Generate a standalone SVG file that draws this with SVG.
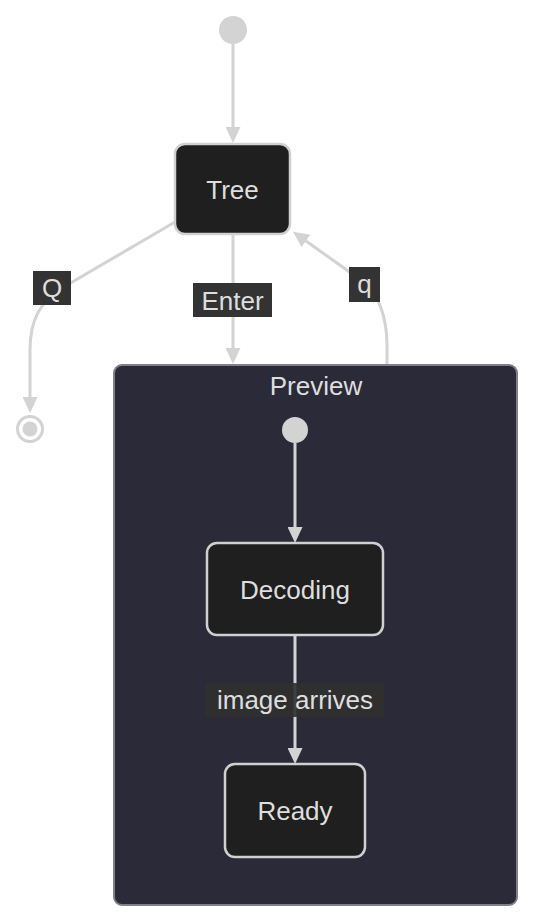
<svg xmlns="http://www.w3.org/2000/svg" width="534" height="922" viewBox="0 0 534 922">
<defs>
<style>
.edge{fill:none;stroke:#d3d3d3;stroke-width:3;}
.node{fill:#1f1f1f;stroke:#d0d0d0;stroke-width:2.5;}
.txt{font-family:"Liberation Sans",Arial,sans-serif;font-size:26px;fill:#dedede;text-anchor:middle;}
.lbl{fill:#333333;}
.dot{fill:#d3d3d3;}
</style>
<marker id="arr" viewBox="0 0 16 15" markerWidth="16" markerHeight="15" refX="0" refY="7.5" orient="auto" markerUnits="userSpaceOnUse">
<path d="M0,0 L16,7.5 L0,15 Z" fill="#d3d3d3"/>
</marker>
</defs>
<rect width="534" height="922" fill="#ffffff"/>
<g id="Preview">
<rect x="114" y="365" width="403" height="540" rx="8" fill="#2a2a38" stroke="#808086" stroke-width="2"/>
<text class="txt" x="316" y="395">Preview</text>
</g>
<g id="connectors">
<path class="edge" d="M233,44 L233,127" marker-end="url(#arr)"/>
<path class="edge" d="M175,222 L62,288 C40,302 30,320 30,350 L30,397" marker-end="url(#arr)"/>
<path class="edge" d="M233,234 L233,348" marker-end="url(#arr)"/>
<path class="edge" d="M387,364 L387,345 C387,318 378,293 365,283 L306,241" marker-end="url(#arr)"/>
<path class="edge" d="M295,443 L295,527" marker-end="url(#arr)"/>
<path class="edge" d="M295,635 L295,748" marker-end="url(#arr)"/>
<rect class="lbl" x="33" y="271" width="38" height="34"/>
<text class="txt" x="52" y="297">Q</text>
<rect class="lbl" x="193" y="283" width="79" height="34"/>
<text class="txt" x="232.5" y="309.5">Enter</text>
<rect class="lbl" x="349" y="267" width="31" height="35"/>
<text class="txt" x="364.5" y="293">q</text>
<rect x="206" y="683" width="178" height="34" fill="#303030" fill-opacity="0.9"/>
<text class="txt" x="295" y="709">image arrives</text>
</g>
<g id="start">
<circle class="dot" cx="233" cy="30" r="14"/>
</g>
<g id="end">
<circle cx="30" cy="429" r="12.5" fill="none" stroke="#d3d3d3" stroke-width="3"/>
<circle class="dot" cx="30" cy="429" r="7.5"/>
</g>
<g id="Tree">
<rect class="node" x="175" y="144" width="115" height="90" rx="10"/>
<text class="txt" x="232.5" y="198.5">Tree</text>
</g>
<g id="PreviewStart">
<circle class="dot" cx="295" cy="430" r="13"/>
</g>
<g id="Decoding">
<rect class="node" x="207" y="543" width="176" height="92" rx="10"/>
<text class="txt" x="295" y="598.5">Decoding</text>
</g>
<g id="Ready">
<rect class="node" x="225" y="764" width="140" height="93" rx="10"/>
<text class="txt" x="295" y="820">Ready</text>
</g>
</svg>
